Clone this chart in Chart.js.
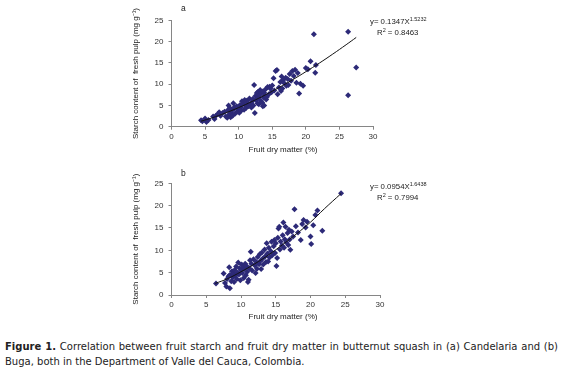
<!DOCTYPE html>
<html>
<head>
<meta charset="utf-8">
<script src="https://cdn.jsdelivr.net/npm/chart.js@4.4.0/dist/chart.umd.min.js"></script>
<style>
  body { margin: 0; background: #fff; width: 563px; height: 368px; position: relative; overflow: hidden; font-family: "Liberation Sans", Arial, sans-serif; }
  canvas { position: absolute; left: 130px; }
  #chartA { top: 0; }
  #chartB { top: 163px; }
  .panel { position: absolute; font-size: 8.5px; line-height: 10px; color: #222; }
  .eq { position: absolute; font-size: 7.8px; line-height: 10px; color: #222; white-space: nowrap; }
  .eq sup { font-size: 5.5px; vertical-align: 3px; line-height: 0; }
  .xtitle { position: absolute; left: 223px; width: 120px; text-align: center; font-size: 8px; line-height: 10px; color: #222; }
  .caption { position: absolute; left: 5px; top: 339px; width: 553px; font-family: "DejaVu Sans", sans-serif; font-size: 10px; line-height: 15px; color: #222; }
  .caption .l1 { text-align: justify; text-align-last: justify; white-space: nowrap; }
</style>
</head>
<body>
<canvas id="chartA" width="262" height="160"></canvas>
<canvas id="chartB" width="262" height="160"></canvas>

<div class="panel" style="left:181px;top:3px">a</div>
<div class="panel" style="left:181px;top:168px">b</div>

<div class="eq" style="left:370px;top:17px">y= 0.1347X<sup>1.5232</sup></div>
<div class="eq" style="left:377px;top:28px">R<sup>2</sup> = 0.8463</div>
<div class="eq" style="left:370px;top:182px">y= 0.0954X<sup>1.6438</sup></div>
<div class="eq" style="left:377px;top:193px">R<sup>2</sup> = 0.7994</div>

<div class="xtitle" style="top:145px">Fruit dry matter (%)</div>
<div class="xtitle" style="top:312px">Fruit dry matter (%)</div>

<div class="caption">
  <div class="l1"><b>Figure 1.</b> Correlation between fruit starch and fruit dry matter in butternut squash in (a) Candelaria and (b)</div>
  <div>Buga, both in the Department of Valle del Cauca, Colombia.</div>
</div>

<script>
// (a) Candelaria: [fruit dry matter %, starch mg/g]
const candelariaPoints = [
  [4.4, 1.5], [4.6, 1.3], [5.0, 1.9], [5.2, 1.1], [5.5, 1.6], [6.2, 2.4], [6.4, 1.8], [6.6, 2.6],
  [6.9, 3.0], [7.1, 3.4], [7.3, 2.6], [7.6, 3.2], [7.9, 3.5], [8.1, 2.4], [8.3, 2.1], [8.4, 3.9],
  [8.5, 5.0], [8.6, 2.9], [8.7, 4.4], [8.8, 2.2], [8.9, 3.3], [9.0, 3.8], [9.1, 2.6], [9.2, 5.5],
  [9.3, 4.2], [9.4, 4.6], [9.5, 3.1], [9.7, 4.8], [9.8, 3.6], [10.0, 4.1], [10.1, 3.3], [10.2, 5.1],
  [10.3, 4.5], [10.4, 3.8], [10.5, 6.0], [10.6, 5.3], [10.7, 5.8], [10.8, 4.0], [10.9, 6.3], [11.0, 5.0],
  [11.1, 4.4], [11.2, 6.1], [11.3, 5.6], [11.5, 4.8], [11.6, 6.6], [11.8, 5.2], [11.9, 4.5], [12.0, 5.9],
  [12.1, 6.5], [12.2, 5.0], [12.3, 9.8], [12.4, 3.2], [12.5, 7.2], [12.6, 6.3], [12.7, 7.9], [12.8, 5.5],
  [12.9, 8.2], [12.9, 7.1], [13.0, 6.8], [13.0, 5.3], [13.1, 7.5], [13.2, 8.6], [13.3, 6.1], [13.4, 7.9],
  [13.5, 5.7], [13.6, 8.3], [13.6, 4.8], [13.7, 6.9], [13.8, 5.0], [13.8, 8.0], [13.9, 7.4], [14.0, 8.8],
  [14.1, 6.4], [14.2, 7.0], [14.3, 9.3], [14.5, 7.6], [14.6, 9.4], [14.7, 9.0], [14.9, 8.1], [15.0, 9.7],
  [15.2, 11.4], [15.3, 8.5], [15.5, 13.1], [15.7, 13.3], [15.8, 7.6], [16.0, 9.2], [16.2, 10.5], [16.3, 8.4],
  [16.4, 11.8], [16.5, 9.0], [16.6, 11.0], [16.8, 10.2], [17.0, 11.5], [17.1, 9.6], [17.3, 11.2], [17.4, 9.8],
  [17.6, 12.4], [17.8, 10.8], [18.0, 13.1], [18.2, 11.9], [18.4, 13.4], [18.6, 10.3], [18.8, 12.6], [19.0, 7.8],
  [19.2, 10.1], [19.6, 9.6], [20.0, 13.8], [20.3, 13.5], [20.7, 15.4], [21.2, 21.7], [21.4, 12.7], [21.5, 14.5],
  [26.3, 22.3], [26.3, 7.4], [27.5, 13.9]
];
// power trendline (a)
const candelariaTrendX = [4.4, 6, 8, 10, 12, 14, 16, 18, 20, 22, 24, 26, 27.5];
const candelariaTrendY = [1.29, 2.06, 3.2, 4.49, 5.93, 7.5, 9.2, 11.0, 12.92, 14.93, 17.05, 19.26, 20.97];

// (b) Buga
const bugaPoints = [
  [6.4, 2.6], [7.5, 4.8], [7.7, 2.7], [7.9, 1.9], [8.0, 3.6], [8.2, 4.2], [8.3, 6.2], [8.4, 1.5],
  [8.4, 4.5], [8.6, 3.1], [8.7, 5.3], [8.8, 3.9], [8.9, 4.8], [9.0, 2.9], [9.1, 5.6], [9.2, 4.3],
  [9.3, 6.4], [9.4, 3.6], [9.5, 5.0], [9.6, 7.3], [9.7, 4.6], [9.8, 6.0], [9.9, 3.3], [10.0, 5.5],
  [10.1, 6.8], [10.2, 4.9], [10.3, 6.2], [10.4, 3.8], [10.5, 5.8], [10.6, 7.0], [10.7, 4.4], [10.8, 6.5],
  [10.9, 5.2], [11.0, 2.9], [11.1, 3.4], [11.2, 6.0], [11.3, 7.8], [11.4, 9.7], [11.5, 7.0], [11.6, 5.5],
  [11.8, 8.0], [12.0, 6.6], [12.1, 4.9], [12.2, 7.4], [12.3, 5.9], [12.4, 8.5], [12.6, 6.9], [12.7, 9.1],
  [12.8, 7.6], [12.9, 5.8], [13.0, 9.5], [13.1, 8.1], [13.2, 6.8], [13.4, 10.2], [13.5, 8.7], [13.6, 7.4],
  [13.7, 11.6], [13.8, 9.3], [13.9, 7.5], [14.0, 10.6], [14.1, 8.4], [14.3, 9.8], [14.4, 11.9], [14.5, 8.9],
  [14.7, 10.9], [14.8, 12.3], [14.9, 9.4], [15.0, 11.6], [15.1, 6.5], [15.2, 8.3], [15.3, 12.8], [15.4, 14.9],
  [15.5, 15.3], [15.6, 10.2], [15.7, 12.0], [15.9, 11.1], [16.0, 13.4], [16.1, 16.2], [16.2, 10.6], [16.3, 12.5],
  [16.4, 15.3], [16.5, 11.8], [16.7, 13.9], [16.8, 11.2], [16.9, 14.6], [17.0, 12.4], [17.1, 10.1], [17.3, 14.2],
  [17.5, 13.1], [17.7, 19.2], [17.9, 15.4], [18.2, 14.0], [18.6, 12.3], [18.8, 15.9], [19.0, 16.8], [19.3, 15.1],
  [19.5, 16.4], [20.0, 13.1], [20.1, 11.4], [20.4, 15.6], [20.7, 17.9], [21.0, 18.9], [21.7, 14.4], [24.4, 22.8]
];
const bugaTrendX = [6.3, 8, 10, 12, 14, 16, 18, 20, 22, 24.4];
const bugaTrendY = [2.6, 3.6, 5.2, 7.0, 9.0, 11.3, 13.7, 16.3, 19.3, 22.7];

const xTicks = [0, 5, 10, 15, 20, 25, 30];
const yTicks = [0, 5, 10, 15, 20, 25];

const axisGray = '#868686';
const markerBlue = '#2d2a78';
const yTitle = 'Starch content of  fresh pulp (mg g\u207B\u00B9)';

function makeChart(id, points, trendX, trendY, cfg) {
  const ctx = document.getElementById(id);
  return new Chart(ctx, {
    type: 'scatter',
    data: {
      datasets: [
        {
          data: trendX.map((x, i) => ({ x: x, y: trendY[i] })),
          showLine: true,
          borderColor: '#111',
          borderWidth: 1,
          pointRadius: 0,
          tension: 0.4,
          order: 0,
        },
        {
          data: points.map(p => ({ x: p[0], y: p[1] })),
          pointStyle: 'rectRot',
          pointRadius: 3,
          backgroundColor: markerBlue,
          borderColor: markerBlue,
          borderWidth: 0,
          order: 1,
        },
      ],
    },
    options: {
      responsive: false,
      animation: false,
      layout: { padding: { top: 20.3, right: cfg.padRight, left: 0, bottom: 0 } },
      plugins: { legend: { display: false }, tooltip: { enabled: false } },
      scales: {
        x: {
          type: 'linear',
          min: xTicks[0],
          max: xTicks[xTicks.length - 1],
          afterFit: s => { s.height = cfg.xHeight; },
          afterBuildTicks: s => { s.ticks = xTicks.map(v => ({ value: v })); },
          grid: { drawOnChartArea: false, tickLength: 3, color: axisGray },
          border: { color: axisGray, width: 1 },
          ticks: { padding: 2, color: '#333', font: { family: 'Liberation Sans', size: 8 } },
        },
        y: {
          type: 'linear',
          min: 0,
          max: 25,
          afterFit: s => { s.width = 41.5; },
          afterBuildTicks: s => { s.ticks = cfg.yMinor.map(v => ({ value: v })); },
          grid: { drawOnChartArea: false, tickLength: 3, color: axisGray },
          border: { color: axisGray, width: 1 },
          ticks: {
            padding: 5,
            color: '#333',
            font: { family: 'Liberation Sans', size: 8 },
            callback: v => (yTicks.includes(v) ? v : ''),
          },
          title: {
            display: true,
            text: yTitle,
            color: '#222',
            padding: { top: 1, bottom: 0 },
            font: { family: 'Liberation Sans', size: 8 },
          },
        },
      },
    },
  });
}

makeChart('chartA', candelariaPoints, candelariaTrendX, candelariaTrendY, {
  padRight: 19, xHeight: 33.3, yMinor: yTicks,
});
makeChart('chartB', bugaPoints, bugaTrendX, bugaTrendY, {
  padRight: 12, xHeight: 28, yMinor: [0, 2.5, 5, 7.5, 10, 12.5, 15, 17.5, 20, 22.5, 25],
});
</script>
</body>
</html>
